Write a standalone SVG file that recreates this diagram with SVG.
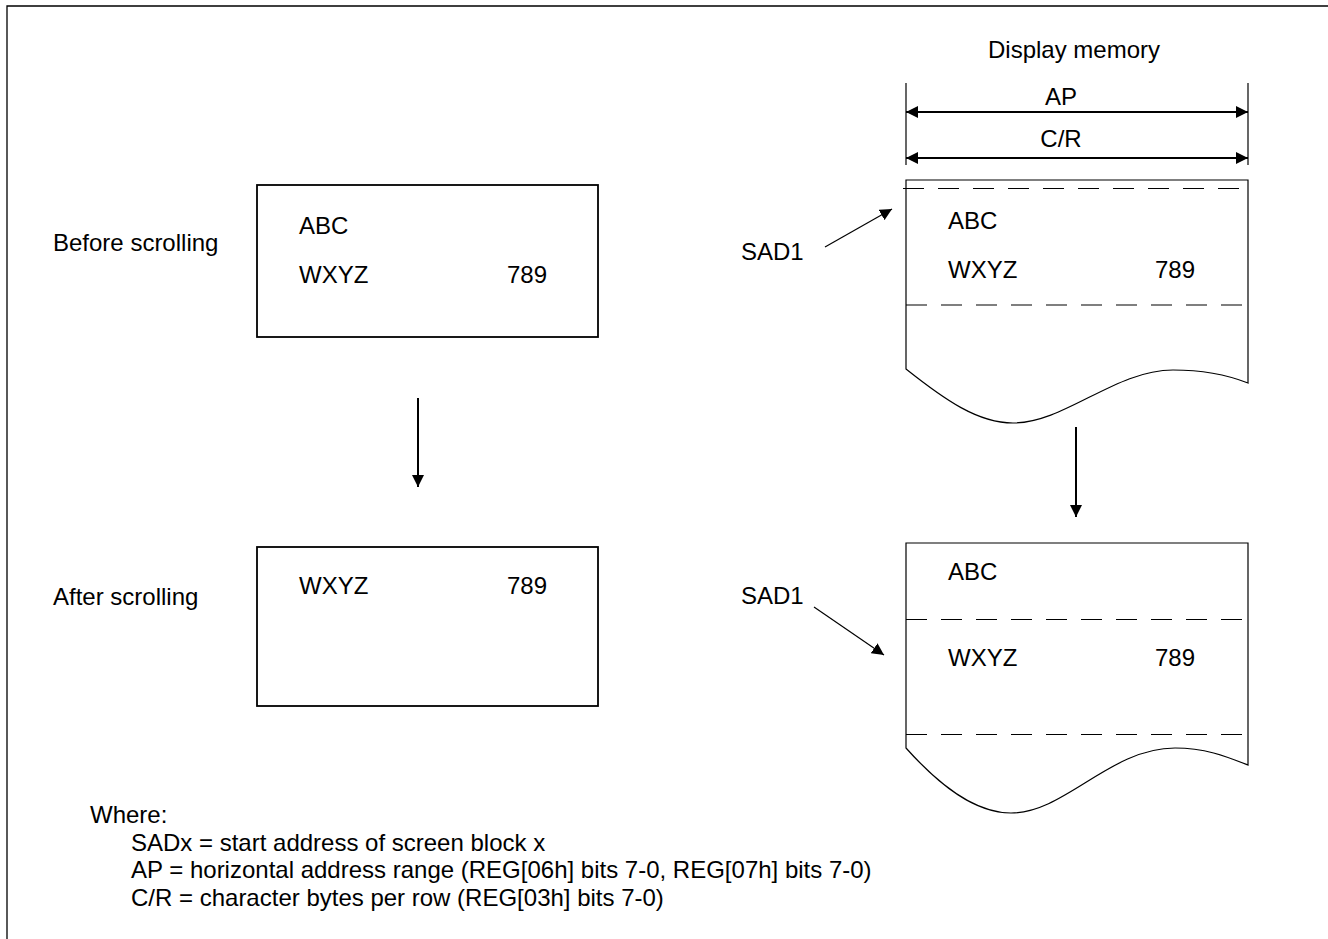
<svg xmlns="http://www.w3.org/2000/svg" width="1328" height="939" viewBox="0 0 1328 939">
<style>
text{font-family:"Liberation Sans",Arial,sans-serif;font-size:24px;fill:#000}
.box{fill:none;stroke:#000;stroke-width:1.8}
.mem{fill:none;stroke:#000;stroke-width:1.2}
.dash{fill:none;stroke:#000;stroke-width:1.2;stroke-dasharray:21 14}
.ext{stroke:#000;stroke-width:1.2}
.arr{stroke:#000;stroke-width:2;fill:none}
.thin{stroke:#000;stroke-width:1.2;fill:none}
</style>
<defs>
<marker id="ah" viewBox="0 0 12 12" refX="12" refY="6" markerWidth="12" markerHeight="12" orient="auto-start-reverse" markerUnits="userSpaceOnUse"><path d="M0,0 L12,6 L0,12 z" fill="#000"/></marker>
</defs>
<rect width="1328" height="939" fill="#fff"/>
<path d="M7,939 V6 H1328" fill="none" stroke="#000" stroke-width="1.3"/>

<g id="label-before"><text x="53" y="251">Before scrolling</text></g>
<g id="label-after"><text x="53" y="605">After scrolling</text></g>

<g id="screen-before">
<rect class="box" x="257" y="185" width="341" height="152"/>
<text x="299" y="234">ABC</text>
<text x="299" y="283">WXYZ</text>
<text x="507" y="283">789</text>
</g>

<g id="screen-after">
<rect class="box" x="257" y="547" width="341" height="159"/>
<text x="299" y="594">WXYZ</text>
<text x="507" y="594">789</text>
</g>

<g id="display-memory-header">
<text x="1074" y="58" text-anchor="middle">Display memory</text>
<line class="ext" x1="906" y1="83" x2="906" y2="165"/>
<line class="ext" x1="1248" y1="83" x2="1248" y2="165"/>
<text x="1061" y="105" text-anchor="middle">AP</text>
<text x="1061" y="147" text-anchor="middle">C/R</text>
</g>

<g id="memory-before">
<path class="mem" d="M906,369 V180 H1248 V383 C1225,374 1200,370 1173,370 C1115,370 1065,423 1013,423 C978,423 945,400 906,369 Z"/>
<line class="dash" x1="903" y1="188.5" x2="1248" y2="188.5"/>
<line class="dash" x1="906" y1="305" x2="1248" y2="305"/>
<text x="948" y="229">ABC</text>
<text x="948" y="278">WXYZ</text>
<text x="1155" y="278">789</text>
<text x="741" y="260">SAD1</text>
</g>

<g id="memory-after">
<path class="mem" d="M906,748 V543 H1248 V765 C1225,756 1205,748 1175,748 C1110,748 1065,813 1011,813 C975,813 940,786 906,748 Z"/>
<line class="dash" x1="906" y1="619.5" x2="1248" y2="619.5"/>
<line class="dash" x1="906" y1="734.5" x2="1248" y2="734.5"/>
<text x="948" y="580">ABC</text>
<text x="948" y="666">WXYZ</text>
<text x="1155" y="666">789</text>
<text x="741" y="604">SAD1</text>
</g>

<g id="connectors">
<line class="arr" x1="906" y1="112" x2="1248" y2="112" marker-start="url(#ah)" marker-end="url(#ah)"/>
<line class="arr" x1="906" y1="158" x2="1248" y2="158" marker-start="url(#ah)" marker-end="url(#ah)"/>
<line class="arr" x1="418" y1="398" x2="418" y2="487" marker-end="url(#ah)"/>
<line class="arr" x1="1076" y1="427" x2="1076" y2="517" marker-end="url(#ah)"/>
<line class="thin" x1="825" y1="247" x2="892" y2="209" marker-end="url(#ah)"/>
<line class="thin" x1="814" y1="607" x2="884" y2="655" marker-end="url(#ah)"/>
</g>

<g id="legend">
<text x="90" y="823">Where:</text>
<text x="131" y="850.5">SADx = start address of screen block x</text>
<text x="131" y="878">AP = horizontal address range (REG[06h] bits 7-0, REG[07h] bits 7-0)</text>
<text x="131" y="905.5">C/R = character bytes per row (REG[03h] bits 7-0)</text>
</g>
</svg>
